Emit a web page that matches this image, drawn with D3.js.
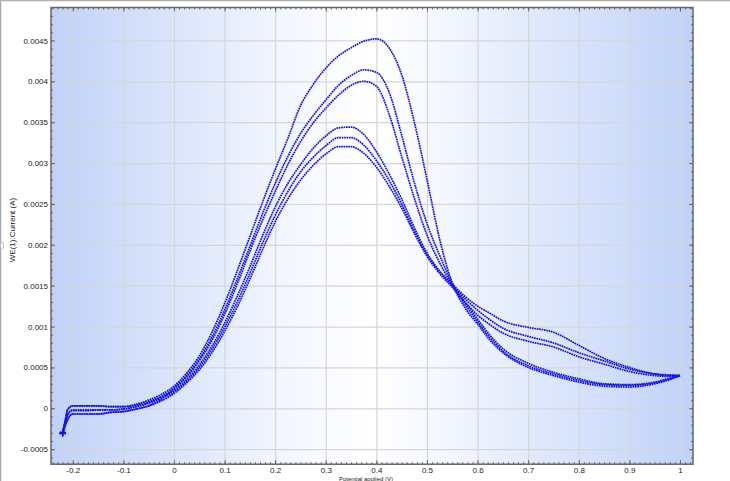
<!DOCTYPE html>
<html><head><meta charset="utf-8">
<script src="https://cdn.jsdelivr.net/npm/d3@7"></script>
<style>
html,body{margin:0;padding:0;background:#fff;}
svg{display:block;font-family:"Liberation Sans",Arial,sans-serif;}
</style></head>
<body>
<svg id="chart" width="730" height="481"></svg>
<script>
// ---- data ----
const potential = [-0.22,-0.215,-0.21,-0.2,-0.175,-0.15,-0.125,-0.1,-0.075,-0.05,-0.025,0,0.025,0.05,0.075,0.1,0.125,0.15,0.175,0.2,0.225,0.25,0.275,0.3,0.325,0.35,0.375,0.4,0.425,0.45,0.475,0.5,0.525,0.55,0.575,0.6,0.625,0.65,0.7,0.75,0.8,0.85,0.9,0.95,0.975,1.0];

const scanH1 = [-0.00030,-0.00016,-0.00002,0.00003,0.00003,0.00003,0.00002,0.00002,0.00005,0.00010,0.00017,0.00027,0.00043,0.00064,0.00093,0.00128,0.00168,0.00210,0.00252,0.00292,0.00330,0.00370,0.00396,0.00416,0.00431,0.00441,0.00449,0.00452,0.00441,0.00408,0.00350,0.00280,0.00207,0.00153,0.00123,0.00103,0.00083,0.00068,0.00050,0.00040,0.00032,0.00027,0.00026,0.00030,0.00034,0.00040];
const scanH2 = [-0.00030,-0.00018,-0.00007,-0.00002,-0.00002,-0.00002,-0.00002,-0.00001,0.00002,0.00007,0.00014,0.00025,0.00040,0.00060,0.00087,0.00120,0.00158,0.00198,0.00238,0.00275,0.00308,0.00336,0.00358,0.00377,0.00395,0.00407,0.00414,0.00411,0.00387,0.00334,0.00276,0.00226,0.00187,0.00153,0.00127,0.00106,0.00086,0.00070,0.00052,0.00042,0.00034,0.00029,0.00028,0.00031,0.00035,0.00040];
const scanH3 = [-0.00030,-0.00021,-0.00013,-0.00007,-0.00007,-0.00007,-0.00005,-0.00004,-0.00001,0.00003,0.00011,0.00024,0.00038,0.00058,0.00083,0.00115,0.00152,0.00192,0.00230,0.00265,0.00298,0.00326,0.00349,0.00367,0.00383,0.00395,0.00400,0.00394,0.00360,0.00308,0.00257,0.00212,0.00178,0.00151,0.00130,0.00109,0.00089,0.00073,0.00055,0.00044,0.00036,0.00030,0.00029,0.00032,0.00036,0.00040];
const scanL1 = [-0.00029,-0.00015,-0.00001,0.00003,0.00003,0.00003,0.00002,0.00002,0.00004,0.00008,0.00014,0.00022,0.00035,0.00053,0.00076,0.00104,0.00137,0.00173,0.00211,0.00246,0.00275,0.00298,0.00318,0.00333,0.00343,0.00344,0.00335,0.00314,0.00287,0.00256,0.00221,0.00190,0.00168,0.00152,0.00137,0.00125,0.00116,0.00107,0.00099,0.00093,0.00077,0.00061,0.00050,0.00042,0.00041,0.00040];
const scanL2 = [-0.00031,-0.00019,-0.00008,-0.00003,-0.00003,-0.00002,-0.00002,-0.00001,0.00002,0.00006,0.00012,0.00020,0.00033,0.00050,0.00072,0.00099,0.00130,0.00165,0.00202,0.00236,0.00265,0.00289,0.00307,0.00321,0.00331,0.00331,0.00322,0.00303,0.00279,0.00250,0.00217,0.00188,0.00167,0.00150,0.00134,0.00120,0.00108,0.00098,0.00088,0.00080,0.00068,0.00058,0.00048,0.00042,0.00040,0.00040];
const scanL3 = [-0.00031,-0.00022,-0.00014,-0.00007,-0.00007,-0.00007,-0.00005,-0.00004,-0.00001,0.00003,0.00009,0.00018,0.00031,0.00047,0.00068,0.00094,0.00124,0.00158,0.00194,0.00228,0.00256,0.00279,0.00297,0.00311,0.00320,0.00320,0.00312,0.00295,0.00272,0.00245,0.00214,0.00186,0.00165,0.00148,0.00130,0.00114,0.00102,0.00092,0.00082,0.00075,0.00063,0.00054,0.00045,0.00040,0.00039,0.00040];

const xTicks = [-0.2,-0.1,0,0.1,0.2,0.3,0.4,0.5,0.6,0.7,0.8,0.9,1];
const yTicks = [-0.0005,0,0.0005,0.001,0.0015,0.002,0.0025,0.003,0.0035,0.004,0.0045];
const xTitle = "Potential applied (V)";
const yTitle = "WE(1).Current (A)";

// ---- layout ----
const L = 51, R = 693, T = 7.5, B = 464.2;
const svg = d3.select("#chart");
const x = d3.scaleLinear().domain([-0.243, 1.0257]).range([L, R]);
const y = d3.scaleLinear().domain([-0.000684, 0.004903]).range([B, T]);

// outer frame (left / top gray border)
svg.append("line").attr("x1",0.5).attr("x2",0.5).attr("y1",0).attr("y2",481).attr("stroke","#a8a8a8").attr("stroke-width",1.5);
svg.append("line").attr("x1",0).attr("x2",730).attr("y1",0.5).attr("y2",0.5).attr("stroke","#b0b0b0").attr("stroke-width",1.5);
svg.append("rect").attr("x",0.5).attr("y",243).attr("width",3).attr("height",5).attr("fill","#fff").attr("stroke","#b8b8b8").attr("stroke-width",0.8);

// background gradient
const defs = svg.append("defs");
const grad = defs.append("linearGradient").attr("id","bg").attr("x1","0").attr("x2","1").attr("y1","0").attr("y2","0");
[[0,"#c0d2f8"],[0.36,"#f2f6fe"],[0.5,"#ffffff"],[0.62,"#f2f6fe"],[1,"#c0d2f8"]].forEach(([o,c])=>grad.append("stop").attr("offset",o).attr("stop-color",c));
svg.append("rect").attr("x",L).attr("y",T).attr("width",R-L).attr("height",B-T).attr("fill","url(#bg)");
defs.append("clipPath").attr("id","clip").append("rect").attr("x",L).attr("y",T).attr("width",R-L).attr("height",B-T);

// grid
svg.append("g").attr("transform",`translate(0,${B})`)
  .call(d3.axisBottom(x).tickValues(xTicks).tickSize(-(B-T)).tickFormat(""))
  .call(g=>{g.select(".domain").remove();g.selectAll("line").attr("stroke","#d6d6d6").attr("stroke-width",1.2);});
svg.append("g").attr("transform",`translate(${L},0)`)
  .call(d3.axisLeft(y).tickValues(yTicks).tickSize(-(R-L)).tickFormat(""))
  .call(g=>{g.select(".domain").remove();g.selectAll("line").attr("stroke","#d6d6d6").attr("stroke-width",1.2);});

// curves
const series = [scanH1, scanH2, scanH3, scanL1, scanL2, scanL3];
const line = d3.line().x((d,i)=>x(potential[i])).y(d=>y(d)).curve(d3.curveMonotoneX);
const cg = svg.append("g").attr("clip-path","url(#clip)");
series.forEach(s=>{
  cg.append("path").datum(s).attr("d",line)
    .attr("fill","none").attr("stroke","#1010f0").attr("stroke-width",1.7)
    .attr("stroke-dasharray","1.7 0.7");
});
// start markers "+"
series.forEach(s=>{
  const px = x(potential[0]), py = y(s[0]);
  cg.append("path").attr("d",`M${px-3},${py}H${px+3}M${px},${py-3}V${py+3}`)
    .attr("stroke","#1010f0").attr("stroke-width",1.2);
});

// axes
const axColor = "#666";
const minorX = d3.range(-240,1026,10).map(v=>v/1000).filter(v=>v>=-0.243&&v<=1.0257);
const minorY = d3.range(-6,50,1).map(v=>v/10000);
function styleAxis(g){g.selectAll("line").attr("stroke",axColor);g.selectAll("text").attr("fill","#222").style("font-size","8px").style("font-family","'Liberation Sans',Arial,sans-serif");}

// bottom
svg.append("g").attr("transform",`translate(0,${B})`).call(d3.axisBottom(x).tickValues(minorX).tickSize(-2).tickFormat("")).call(g=>g.select(".domain").remove()).call(styleAxis);
svg.append("g").attr("transform",`translate(0,${B})`).call(d3.axisBottom(x).tickValues(xTicks).tickSize(-4).tickPadding(3.5).tickFormat(d=>String(+d.toFixed(1)))).call(g=>g.select(".domain").remove()).call(styleAxis);
// top
svg.append("g").attr("transform",`translate(0,${T})`).call(d3.axisTop(x).tickValues(minorX).tickSize(-2).tickFormat("")).call(g=>g.select(".domain").remove()).call(styleAxis);
svg.append("g").attr("transform",`translate(0,${T})`).call(d3.axisTop(x).tickValues(xTicks).tickSize(-4).tickFormat("")).call(g=>g.select(".domain").remove()).call(styleAxis);
// left
svg.append("g").attr("transform",`translate(${L},0)`).call(d3.axisLeft(y).tickValues(minorY).tickSize(-2).tickFormat("")).call(g=>g.select(".domain").remove()).call(styleAxis);
svg.append("g").attr("transform",`translate(${L},0)`).call(d3.axisLeft(y).tickValues(yTicks).tickSize(-4).tickPadding(3).tickFormat(d=>String(+d.toFixed(4)))).call(g=>g.select(".domain").remove()).call(styleAxis);
// right
svg.append("g").attr("transform",`translate(${R},0)`).call(d3.axisRight(y).tickValues(minorY).tickSize(-2).tickFormat("")).call(g=>g.select(".domain").remove()).call(styleAxis);
svg.append("g").attr("transform",`translate(${R},0)`).call(d3.axisRight(y).tickValues(yTicks).tickSize(-4).tickFormat("")).call(g=>g.select(".domain").remove()).call(styleAxis);

// frame
svg.append("rect").attr("x",L).attr("y",T).attr("width",R-L).attr("height",B-T).attr("fill","none").attr("stroke",axColor).attr("stroke-width",1.5);

// titles
svg.append("text").attr("x",366).attr("y",481).attr("text-anchor","middle").attr("fill","#222").style("font-size","6px").text(xTitle);
svg.append("text").attr("transform","translate(15,230) rotate(-90)").attr("text-anchor","middle").attr("fill","#222").style("font-size","8px").text(yTitle);
</script>
</body></html>
